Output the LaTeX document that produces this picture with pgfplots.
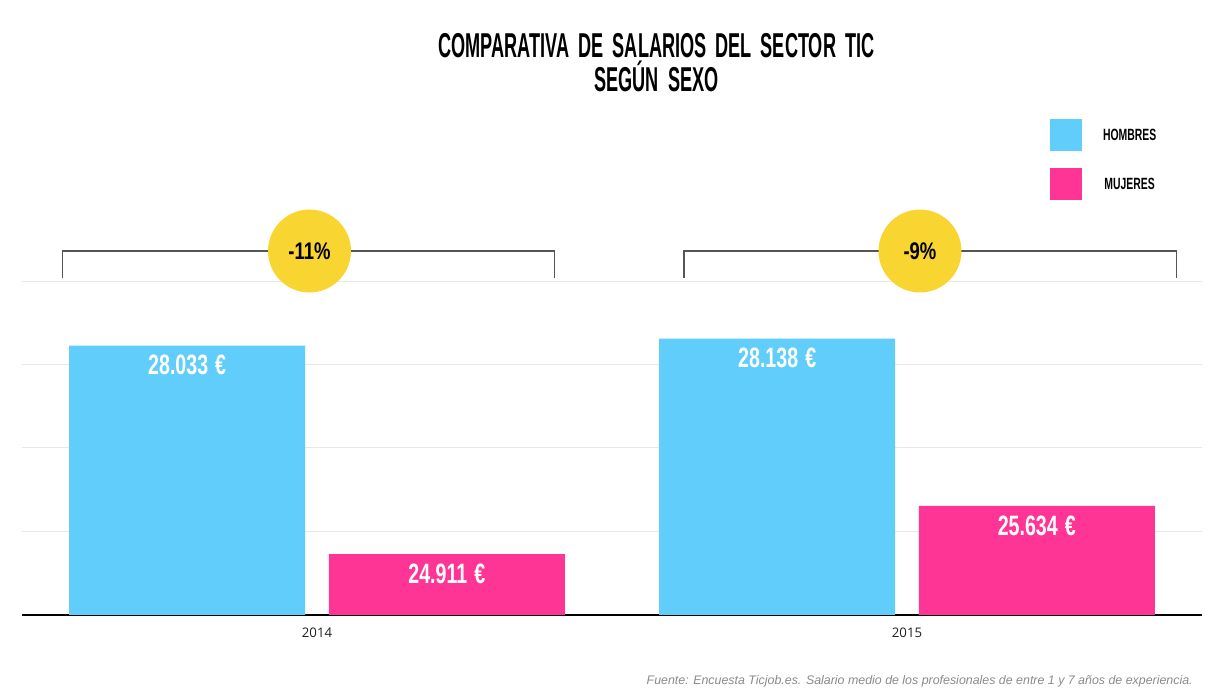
\documentclass[border=0pt]{standalone}
\usepackage{fontspec}
\usepackage{pgfplots}
\pgfplotsset{compat=1.18}
\setmainfont{Liberation Sans}
\newfontfamily\titlefont[FakeStretch=0.525,WordSpace=1.8]{Liberation Sans}
\newfontfamily\numfont[FakeStretch=0.70,WordSpace=1.3]{Liberation Sans}
\newfontfamily\pctfont[FakeStretch=0.77]{Liberation Sans}
\newfontfamily\legfont[FakeStretch=0.64]{Liberation Sans}
\newfontfamily\tickfont{Open Sans}
\definecolor{hombres}{HTML}{60CDFB}
\definecolor{mujeres}{HTML}{FF3595}
\definecolor{amarillo}{HTML}{F9D531}
\definecolor{gridc}{HTML}{E8E8E8}
\definecolor{bracketc}{HTML}{555555}
\definecolor{footc}{HTML}{8A8A8A}
\begin{document}
\begin{tikzpicture}
% page = 1222 x 696 px, 1 px = 0.75 pt, origin at pixel (22,615)
\path[use as bounding box] (-16.5pt,-60.75pt) rectangle (900pt,461.25pt);
\begin{axis}[
  at={(0pt,0pt)}, anchor=south west,
  scale only axis, width=885pt, height=250.5pt,
  xmin=-0.5, xmax=1.5, ymin=24000, ymax=29000,
  scaled y ticks=false,
  axis lines*=left,
  y axis line style={draw=none},
  x axis line style={black, line width=1.1pt},
  major tick length=0pt,
  ytick={24000,25250,26500,27750,29000},
  yticklabels={},
  ymajorgrids,
  grid style={gridc, line width=0.75pt},
  xtick={0,1}, xticklabels={2014,2015},
  xticklabel style={font=\tickfont\fontsize{9.9}{12}\selectfont, text=black!88, inner sep=0pt, yshift=-9.5pt},
  legend style={at={(0.8712,1.485)}, anchor=north west, draw=none, fill=none,
    inner sep=0pt, outer sep=0pt, row sep=12.75pt, column sep=15.75pt,
    nodes={inner sep=0pt, font=\legfont\bfseries\fontsize{12.2}{14}\selectfont}},
  legend cell align=center,
]
\addplot[ybar, bar width=0.4, bar shift=0pt, fill=hombres, draw=none,
  point meta=explicit symbolic, nodes near coords,
  every node near coord/.append style={anchor=north, inner sep=0pt, yshift=-7.1pt, text=white, font=\numfont\bfseries\fontsize{21}{24}\selectfont},
  legend image code/.code={\fill[hombres] (0pt,-11.45pt) rectangle (24pt,12.55pt);}]
  coordinates {(-0.22,28033) [28.033 €] (0.78,28138) [28.138 €]};
\addlegendentry{HOMBRES}
\addplot[ybar, bar width=0.4, bar shift=0pt, fill=mujeres, draw=none,
  point meta=explicit symbolic, nodes near coords,
  every node near coord/.append style={anchor=north, inner sep=0pt, yshift=-7.1pt, text=white, font=\numfont\bfseries\fontsize{21}{24}\selectfont},
  legend image code/.code={\fill[mujeres] (0pt,-11.45pt) rectangle (24pt,12.55pt);}]
  coordinates {(0.22,24911) [24.911 €] (1.22,25634) [25.634 €]};
\addlegendentry{MUJERES}
% annotation anchors (bracket + difference badge)
\coordinate (b1a) at (axis cs:-0.431,29045);
\coordinate (b1b) at (axis cs:-0.431,29449);
\coordinate (b1c) at (axis cs:0.402,29449);
\coordinate (b1d) at (axis cs:0.402,29045);
\coordinate (c1) at (axis cs:-0.0127,29449);
\coordinate (b2a) at (axis cs:0.622,29045);
\coordinate (b2b) at (axis cs:0.622,29449);
\coordinate (b2c) at (axis cs:1.456,29449);
\coordinate (b2d) at (axis cs:1.456,29045);
\coordinate (c2) at (axis cs:1.022,29449);
\end{axis}
\draw[bracketc, line width=0.8pt] (b1a) -- (b1b) -- (b1c) -- (b1d);
\draw[bracketc, line width=0.8pt] (b2a) -- (b2b) -- (b2c) -- (b2d);
\fill[amarillo] (c1) circle[radius=31.1pt];
\fill[amarillo] (c2) circle[radius=31.1pt];
\node[font=\pctfont\bfseries\fontsize{18}{20}\selectfont, inner sep=0pt] at (c1) {-11\%};
\node[font=\pctfont\bfseries\fontsize{18}{20}\selectfont, inner sep=0pt] at (c2) {-9\%};
\begin{scope}[shift={(-16.5pt,461.25pt)}, x=0.75pt, y=-0.75pt]
\node[anchor=base, inner sep=0pt, font=\titlefont\bfseries\fontsize{25.9}{30}\selectfont] at (656.5,57.3) {COMPARATIVA DE SALARIOS DEL SECTOR TIC};
\node[anchor=base, inner sep=0pt, font=\titlefont\bfseries\fontsize{25.9}{30}\selectfont] at (656.5,91.7) {SEGÚN SEXO};
\node[anchor=base east, inner sep=0pt, text=footc, font=\itshape\fontsize{9.3}{11}\selectfont] at (1193,685) {Fuente: Encuesta Ticjob.es. Salario medio de los profesionales de entre 1 y 7 años de experiencia.};
\end{scope}
\end{tikzpicture}
\end{document}
